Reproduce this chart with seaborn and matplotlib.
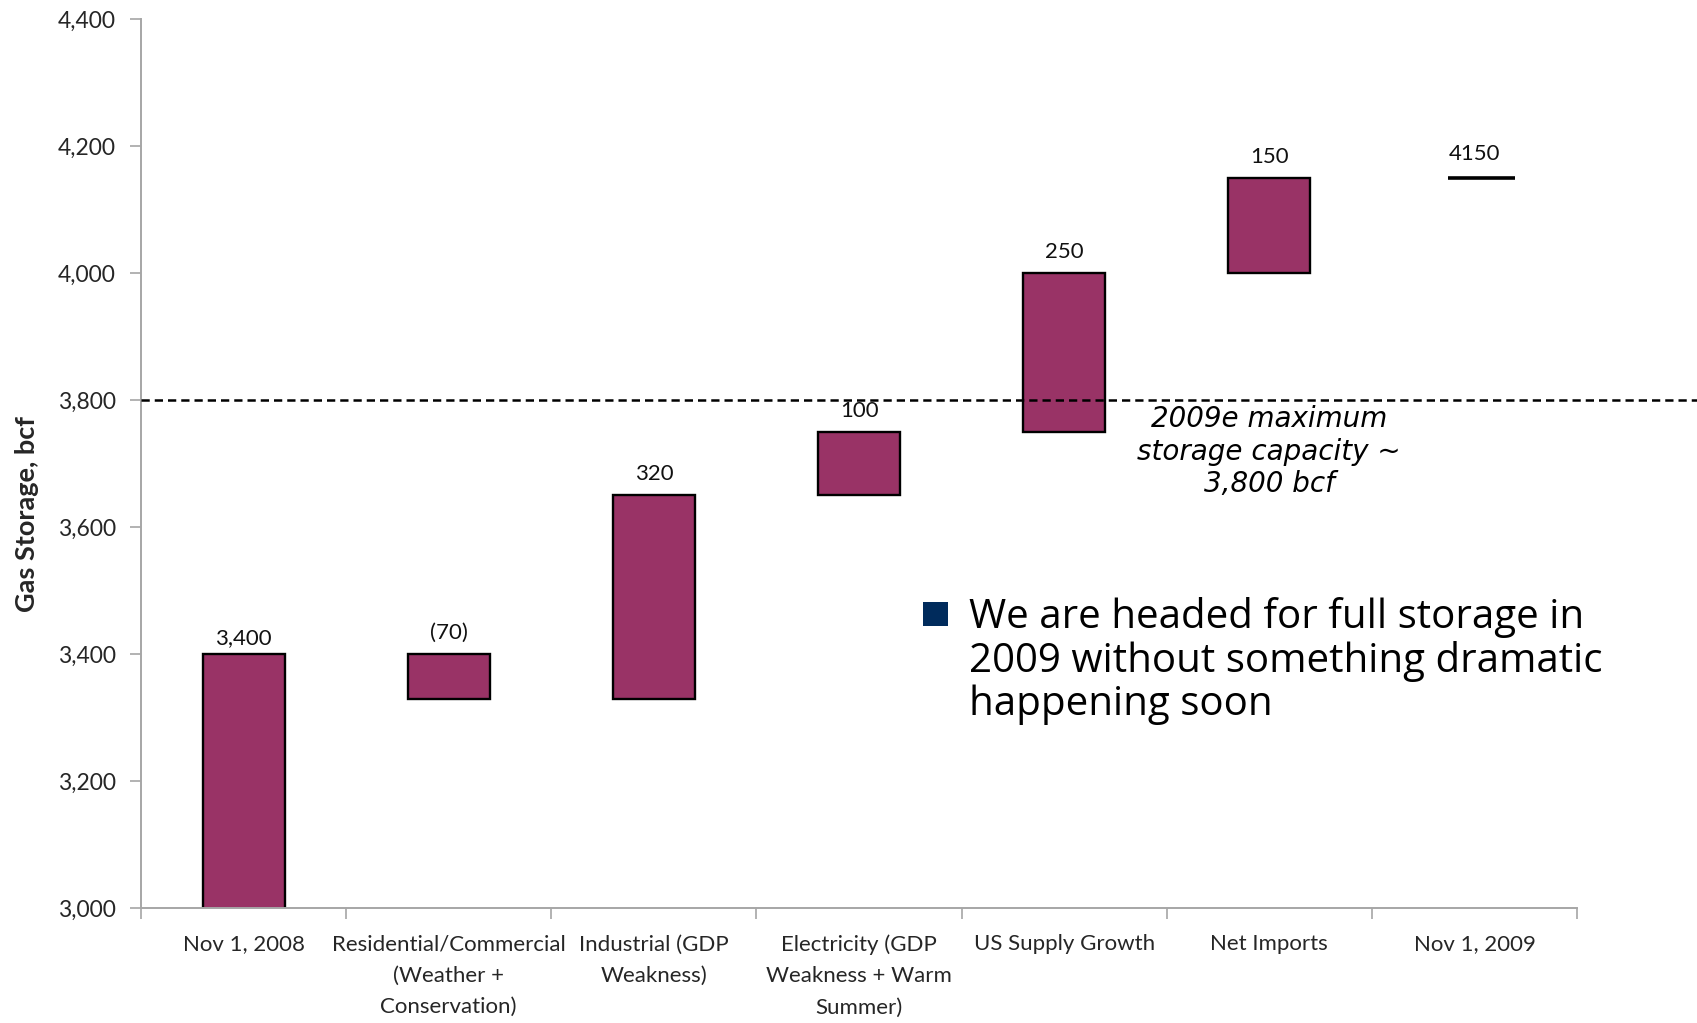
import matplotlib
matplotlib.use("Agg")
import matplotlib.pyplot as plt
import matplotlib.transforms as mtransforms
from matplotlib.patches import Rectangle
import numpy as np
import pandas as pd
import seaborn as sns

# ---- data -------------------------------------------------------------
categories = [
    "Nov 1, 2008",
    "Residential/Commercial\n(Weather +\nConservation)",
    "Industrial (GDP\nWeakness)",
    "Electricity (GDP\nWeakness + Warm\nSummer)",
    "US Supply Growth",
    "Net Imports",
    "Nov 1, 2009",
]
changes = [3400, -70, 320, 100, 250, 150]
change_labels = ["3,400", "(70)", "320", "100", "250", "150"]
ending_total = 4150
ending_label = "4150"
capacity = 3800
capacity_note = "2009e maximum\nstorage capacity ~\n3,800 bcf"
y_ticks = [3000, 3200, 3400, 3600, 3800, 4000, 4200, 4400]
y_tick_labels = ["3,000", "3,200", "3,400", "3,600", "3,800", "4,000", "4,200", "4,400"]
bullet_note = "We are headed for full storage in\n2009 without something dramatic\nhappening soon"
y_title = "Gas Storage, bcf"

# ---- waterfall geometry ----------------------------------------------
changes_arr = np.array(changes, dtype=float)
run_end = np.cumsum(changes_arr)
run_start = run_end - changes_arr
df = pd.DataFrame({
    "category": categories[: len(changes)],
    "bottom": np.minimum(run_start, run_end),
    "height": np.abs(changes_arr),
    "top": np.maximum(run_start, run_end),
    "label": change_labels,
})

# ---- figure -----------------------------------------------------------
sns.set_theme(style="white")
plt.rcParams["font.family"] = ["Lato", "DejaVu Sans"]

fig = plt.figure(figsize=(16.97, 10.23), dpi=100)
ax = fig.add_axes([0.0831, 0.1124, 0.8462, 0.8686])

BAR = "#993366"
sns.barplot(
    data=df, x="category", y="height", order=categories,
    bottom=df["bottom"].values, width=0.4, color=BAR, saturation=1,
    edgecolor="black", linewidth=1.7, errorbar=None, ax=ax, zorder=2,
)

# closing total drawn as a level marker
ax.hlines(ending_total, 6 - 0.13, 6 + 0.2, colors="black", lw=2.6, zorder=3)

# value labels
for i, row in df.iterrows():
    off = 4 if i == 0 else 8
    ax.annotate(row["label"], (i, row["top"]), xytext=(0, off),
                textcoords="offset points", ha="center", va="bottom",
                fontsize=16, color="#111111")
ax.annotate(ending_label, (6, ending_total), xytext=(0, 10),
            textcoords="offset points", ha="center", va="bottom",
            fontsize=16, color="#111111")

# capacity line, running past the plot edge
trans = mtransforms.blended_transform_factory(ax.transAxes, ax.transData)
ax.plot([0, 1.12], [capacity, capacity], transform=trans, color="black",
        lw=1.8, linestyle=(0, (3.3, 2.0)), clip_on=False, zorder=4)
ax.text(5, 3719, capacity_note, ha="center", va="center",
        multialignment="center", fontsize=20, style="italic",
        family="DejaVu Sans", color="black", linespacing=1.2)

# axes styling
ax.set_xlim(-0.5, 6.5)
ax.set_ylim(3000, 4400)
ax.set_yticks(y_ticks)
ax.set_yticklabels(y_tick_labels)
ax.set_xticks(np.arange(-0.5, 7, 1))
ax.set_xticklabels([])
ax.set_xticks(np.arange(len(categories)), minor=True)
ax.set_xticklabels(categories, minor=True, linespacing=1.7)
ax.tick_params(axis="x", which="major", length=8, width=1.2,
               color="#a6a6a6", direction="out", bottom=True)
ax.tick_params(axis="x", which="minor", length=0, pad=19, labelsize=16)
ax.tick_params(axis="y", length=8, width=1.2, color="#a6a6a6",
               direction="out", left=True, pad=10, labelsize=16.5)
for s in ["top", "right"]:
    ax.spines[s].set_visible(False)
for s in ["left", "bottom"]:
    ax.spines[s].set_color("#a6a6a6")
    ax.spines[s].set_linewidth(1.4)
ax.set_xlabel("")
ax.set_ylabel(y_title, fontsize=19.5, fontweight="bold")
ax.yaxis.set_label_coords(-0.0712, 0.443)

# bullet note
fig.patches.append(Rectangle((923 / 1697, 1 - 626 / 1023), 25 / 1697, 24 / 1023,
                             transform=fig.transFigure, facecolor="#002B5C",
                             edgecolor="none"))
fig.text(969 / 1697, 1 - 661 / 1023, bullet_note, ha="left", va="center",
         fontsize=29, family="Open Sans", color="black", linespacing=1.1)

fig.savefig("out.png", dpi=100)
